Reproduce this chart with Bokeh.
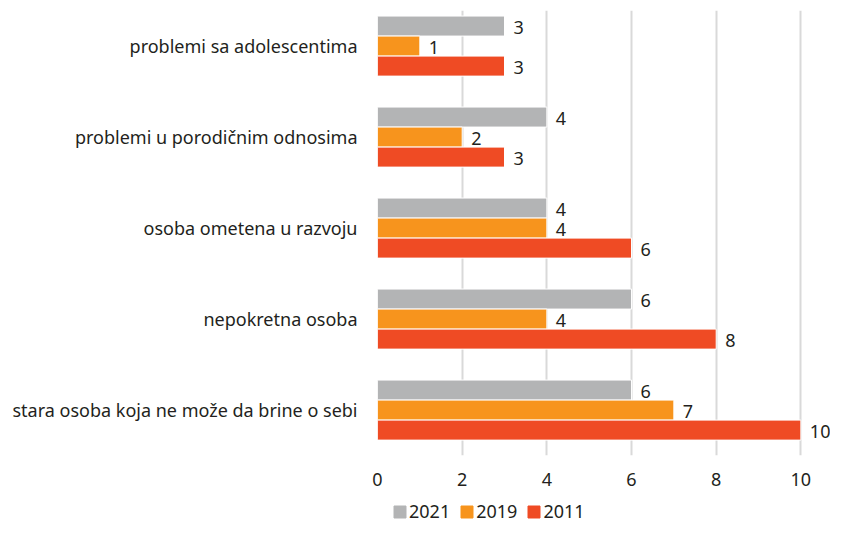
from bokeh.plotting import figure
from bokeh.layouts import column
from bokeh.models import ColumnDataSource, FixedTicker, Legend, LegendItem
from bokeh.core.properties import value
from bokeh.embed import file_html
from bokeh.resources import INLINE

categories = [
    "problemi sa adolescentima",
    "problemi u porodičnim odnosima",
    "osoba ometena u razvoju",
    "nepokretna osoba",
    "stara osoba koja ne može da brine o sebi",
]
series_names = ["2021", "2019", "2011"]
values_2021 = [3, 4, 4, 6, 6]
values_2019 = [1, 2, 4, 4, 7]
values_2011 = [3, 3, 6, 8, 10]
x_ticks = [0, 2, 4, 6, 8, 10]

colors = ["#b3b4b5", "#f7941d", "#ef4b24"]
series_values = [values_2021, values_2019, values_2011]
offsets = [0.22, 0.0, -0.22]
bar_h = 0.22

n = len(categories)
ypos = [n - 1 - i for i in range(n)]

FONT = "Noto Sans"
TXT = "#231f20"
FS = "18px"

p = figure(width=830, height=492, output_backend="svg", toolbar_location=None,
           x_range=(0, 10.7), y_range=(-0.499, 4.391),
           min_border_left=377, min_border_top=10, min_border_right=0,
           min_border_bottom=37)
p.outline_line_color = None
p.background_fill_color = "white"
p.border_fill_color = "white"

for name, vals, col, off in zip(series_names, series_values, colors, offsets):
    src = ColumnDataSource(dict(y=[y + off for y in ypos], x=vals,
                                lab=[str(v) for v in vals]))
    p.hbar(y="y", right="x", left=0, height=bar_h, source=src,
           fill_color=col, line_color="white", line_width=1)
    p.text(x="x", y="y", text="lab", source=src, x_offset=9, y_offset=1,
           text_baseline="middle", text_align="left",
           text_font=value(FONT), text_font_size=FS, text_color=TXT)

# axes
p.xaxis.ticker = FixedTicker(ticks=x_ticks)
p.xaxis.axis_line_color = None
p.xaxis.major_tick_line_color = None
p.xaxis.minor_tick_line_color = None
p.xaxis.major_label_standoff = 11
p.xaxis.major_label_text_font = FONT
p.xaxis.major_label_text_font_size = FS
p.xaxis.major_label_text_color = TXT

p.yaxis.ticker = FixedTicker(ticks=ypos)
p.yaxis.major_label_overrides = {y: c for y, c in zip(ypos, categories)}
p.yaxis.axis_line_color = None
p.yaxis.major_tick_line_color = None
p.yaxis.minor_tick_line_color = None
p.yaxis.major_label_standoff = 14
p.yaxis.major_label_text_font = FONT
p.yaxis.major_label_text_font_size = FS
p.yaxis.major_label_text_color = TXT

p.xgrid.grid_line_color = "#d9d9d9"
p.xgrid.grid_line_width = 2
p.ygrid.grid_line_color = None

# legend strip below the chart (its swatch renderers sit outside the visible range)
lg = figure(width=830, height=31, output_backend="svg", toolbar_location=None,
            x_range=(0, 1), y_range=(0, 1),
            min_border_left=0, min_border_right=0, min_border_top=0, min_border_bottom=0)
lg.axis.visible = False
lg.grid.grid_line_color = None
lg.outline_line_color = None
lg_renderers = []
for col in colors:
    r = lg.hbar(y=[-5], right=[1], left=0, height=0.5, fill_color=col,
                line_color=col, line_width=1)
    lg_renderers.append(r)

legend = Legend(items=[LegendItem(label=nm, renderers=[r]) for nm, r in zip(series_names, lg_renderers)],
                orientation="horizontal", location=(15, 0),
                label_text_font=FONT, label_text_font_size=FS, label_text_color=TXT,
                glyph_width=15, glyph_height=15, label_standoff=2, spacing=9,
                padding=2, margin=0, border_line_color=None, background_fill_alpha=0)
lg.add_layout(legend, "center")

layout = column(p, lg, spacing=0)
open("out.html", "w").write(file_html(layout, INLINE))
